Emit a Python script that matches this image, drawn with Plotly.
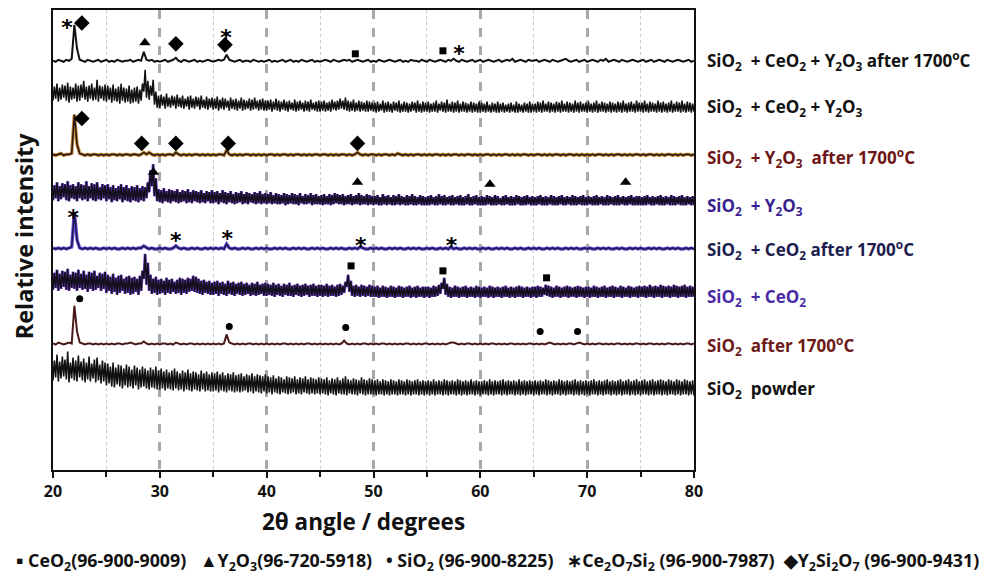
import plotly.graph_objects as go

# 2-theta grid: 20 to 80 degrees in 0.25 degree steps
TWO_THETA_START = 20.0
TWO_THETA_STEP = 0.25

labels = [
    "SiO<sub>2</sub>  + CeO<sub>2</sub> + Y<sub>2</sub>O<sub>3</sub> after 1700<sup>o</sup>C",
    "SiO<sub>2</sub>  + CeO<sub>2</sub> + Y<sub>2</sub>O<sub>3</sub>",
    "SiO<sub>2</sub>  + Y<sub>2</sub>O<sub>3</sub>  after 1700<sup>o</sup>C",
    "SiO<sub>2</sub>  + Y<sub>2</sub>O<sub>3</sub>",
    "SiO<sub>2</sub>  + CeO<sub>2</sub> after 1700<sup>o</sup>C",
    "SiO<sub>2</sub>  + CeO<sub>2</sub>",
    "SiO<sub>2</sub>  after 1700<sup>o</sup>C",
    "SiO<sub>2</sub>  powder",
]
label_colors = ["#111111", "#111111", "#6e1616", "#3a1f8f", "#1d1d4f", "#4b2aa5", "#6e1a1a", "#111111"]
label_y = [411, 364, 314, 265, 221, 173, 125, 81]

# ---- low-noise patterns (single line), intensities in a.u. ----
off_ceo2_y2o3_1700 = 409
int_ceo2_y2o3_1700 = [
    2,1,3,2,1,3,2,4,38,14, 3,2,1,3,2,1,2,3,1,2,
    3,1,2,1,3,2,1,2,2,3, 1,2,3,2,11,3, 2,3,1,2,
    1,2,3,1,2,3,5,2,1,3, 2,1,2,3,1,2,1,2,3,2,
    1,2,3,2,3,8,3,2,1,2, 3,1,2,2,1,3,2,1,2,1,
    2,3,1,2,1,2,3,1,2,3, 1,2,1,3,2,1,2,3,1,2,
    1,2,3,2,1,3,2,1,2,3, 2,3,1,2,3,2,1,2,3,1,
    2,1,3,2,1,2,3,2,1,2, 3,1,2,1,3,2,2,1,3,2,
    1,3,2,1,2,3,2,1,3,2, 4,2,1,3,2,1,2,3,1,2,
    3,1,2,3,2,1,2,3,1,2, 3,2,4,1,2,3,2,1,3,2,
    2,3,1,2,3,2,1,3,2,1, 2,3,4,2,1,2,3,1,2,3,
    1,2,3,2,1,3,2,4,1,2, 3,2,1,3,2,1,2,3,2,1,
    2,3,1,2,3,1,2,3,2,1, 3,2,1,2,3,2,1,2,3,1,
    2,
]
off_y2o3_1700 = 315
int_y2o3_1700 = [
    2,1,2,3,1,2,2,3,42,12, 3,2,1,2,1,2,2,1,2,1,
    2,1,2,2,1,2,1,2,2,1, 2,2,1,2,4,2,4,2,1,2,
    1,2,1,2,2,1,4,2,1,2, 1,2,1,2,2,1,2,1,2,1,
    2,1,2,2,1,6,2,1,2,1, 2,1,2,2,1,2,1,2,1,2,
    1,2,2,1,2,1,2,2,1,2, 1,2,2,1,2,1,2,1,2,2,
    1,2,2,1,2,1,2,1,2,2, 1,2,1,2,4,2,1,2,1,2,
    2,1,2,1,2,2,1,2,1,3, 2,1,2,1,2,1,2,2,1,2,
    1,2,1,2,2,1,2,1,2,1, 2,2,1,2,1,2,2,1,2,1,
    2,1,2,2,1,2,1,2,1,2, 2,1,2,1,2,1,2,2,1,2,
    1,2,2,1,2,1,2,1,2,2, 1,2,1,2,2,1,2,1,2,1,
    2,1,2,1,2,2,1,2,1,2, 1,2,2,1,2,1,2,1,2,2,
    1,2,1,2,2,1,2,1,2,1, 2,2,1,2,1,2,1,2,2,1,
    2,
]
off_ceo2_1700 = 221
int_ceo2_1700 = [
    2,1,2,1,2,1,2,3,38,10, 2,1,2,1,2,1,2,1,1,2,
    1,2,1,2,1,1,2,1,2,1, 2,1,2,2,4,2,1,2,1,1,
    2,1,2,1,1,2,4,2,1,2, 1,1,2,1,2,1,1,2,1,2,
    1,2,1,2,1,6,2,1,2,1, 1,2,1,2,1,1,2,1,2,1,
    2,1,1,2,1,2,1,2,1,1, 2,1,2,1,2,1,1,2,1,2,
    1,2,1,1,2,1,2,1,2,1, 1,2,1,2,1,3,2,1,1,2,
    1,2,1,2,1,1,2,1,2,1, 2,1,1,2,1,2,1,2,1,1,
    2,1,2,1,1,2,1,2,1,3, 1,2,1,1,2,1,2,1,2,1,
    1,2,1,2,1,1,2,1,2,1, 2,1,1,2,1,2,1,1,2,1,
    2,1,2,1,1,2,1,2,1,2, 1,1,2,1,2,1,2,1,1,2,
    1,2,1,1,2,1,2,1,2,1, 1,2,1,2,1,1,2,1,2,1,
    2,1,1,2,1,2,1,2,1,1, 2,1,2,1,2,1,1,2,1,2,
    1,
]
off_sio2_1700 = 125
int_sio2_1700 = [
    2,1,3,2,1,2,3,2,40,14, 3,2,1,2,2,1,2,1,2,1,
    2,1,2,1,2,2,1,2,2,3, 2,1,2,2,4,2,1,2,1,2,
    1,2,2,1,2,1,3,2,1,2, 1,2,2,1,2,1,2,1,2,1,
    2,1,2,1,2,11,3,2,1,2, 1,2,1,2,2,1,2,1,2,1,
    2,1,2,1,2,1,2,2,1,2, 1,2,1,2,1,2,2,1,2,1,
    2,1,2,1,2,1,2,1,2,5, 2,1,2,1,2,1,2,2,1,2,
    1,2,1,2,2,1,2,1,2,1, 2,1,2,2,1,2,1,2,1,2,
    2,1,2,1,2,1,2,1,2,3, 3,2,1,2,1,2,2,1,2,1,
    2,1,2,1,2,2,1,2,1,2, 1,2,2,1,2,1,2,1,2,2,
    1,2,1,2,1,2,3,2,1,2, 1,2,1,2,2,1,2,3,2,1,
    2,1,2,1,2,2,1,2,1,2, 1,2,2,1,2,1,2,1,2,2,
    1,2,1,2,2,1,2,1,2,1, 2,2,1,2,1,2,1,2,2,1,
    2,
]

# ---- noisy patterns: lower / upper extremes of the noise in each 0.25 deg step, a.u. ----
off_ceo2_y2o3 = 358
lo_ceo2_y2o3 = [
    13,15,12,14,16,13,11,14,15,12, 13,16,14,12,15,13,14,12,15,13,
    12,14,11,13,12,10,13,11,12,10, 11,12,10,13,22,16,14,18,9,6,
    6,8,5,7,6,8,5,7,6,5, 7,4,6,5,7,4,6,5,4,6,
    4,5,3,5,4,6,3,5,4,3, 5,3,4,5,3,4,5,3,4,3,
    3,4,2,4,3,2,4,3,2,4, 3,2,3,4,2,3,2,4,3,2,
    2,3,2,3,2,4,3,4,5,4, 3,2,3,2,3,2,3,2,2,3,
    2,1,2,3,1,2,2,1,3,2, 1,2,2,1,2,3,1,2,1,2,
    2,1,2,2,1,3,2,1,2,2, 1,2,1,2,2,1,2,1,2,1,
    1,2,1,2,1,2,1,1,2,1, 2,1,2,1,1,2,1,2,1,1,
    2,1,2,1,2,2,1,2,1,2, 1,2,2,1,2,1,2,1,2,2,
    1,2,1,2,1,2,2,1,2,1, 2,1,2,1,2,1,2,2,1,2,
    2,1,2,1,2,2,1,2,1,2, 1,2,1,2,2,1,2,1,2,1,
    2,
]
hi_ceo2_y2o3 = [
    27,30,26,29,28,31,27,26,30,28, 29,33,27,28,30,26,34,28,27,29,
    28,26,29,25,27,30,26,25,28,24, 26,27,24,30,44,33,28,34,22,18,
    19,17,20,16,18,17,19,16,18,15, 17,18,15,17,16,18,14,17,15,16,
    15,17,14,16,15,13,16,14,15,13, 16,14,13,15,14,16,13,14,15,13,
    13,14,12,15,13,12,14,12,13,11, 14,12,13,11,13,12,14,11,12,13,
    12,13,11,12,14,12,13,15,13,16, 13,12,14,11,13,12,11,13,12,11,
    11,12,10,13,11,12,10,12,11,13, 10,12,11,10,12,11,13,10,12,11,
    12,10,11,13,10,12,11,14,10,12, 11,13,10,12,11,10,12,11,10,12,
    11,10,12,9,11,10,12,10,11,9, 10,11,9,12,10,9,11,10,12,10,
    10,12,11,13,10,12,11,10,12,11, 13,10,12,11,10,13,11,12,10,11,
    12,10,11,13,10,12,11,10,12,11, 10,12,11,13,10,11,12,10,13,11,
    11,13,10,12,11,10,13,11,12,10, 11,13,10,12,11,13,10,12,11,10,
    11,
]
off_y2o3 = 265
lo_y2o3 = [
    6,8,5,7,9,6,5,8,7,5, 8,6,7,5,8,6,5,7,6,8,
    5,7,4,6,5,7,4,6,5,4, 6,5,4,6,5,8,14,20,10,5,
    4,3,5,4,3,5,4,3,4,5, 3,4,3,5,4,3,4,3,5,3,
    3,4,2,4,3,2,4,3,2,3, 4,2,3,2,4,3,2,3,2,3,
    2,3,2,3,2,2,3,1,2,3, 2,2,1,3,2,2,3,1,2,2,
    2,1,2,2,1,2,3,2,2,1, 2,2,1,2,2,1,2,2,1,2,
    1,2,1,1,2,1,2,1,1,2, 1,2,1,1,2,1,1,2,1,1,
    1,1,2,1,1,2,1,1,2,1, 1,2,1,1,1,2,1,1,2,1,
    1,1,1,2,1,1,1,2,1,1, 2,1,1,1,2,1,1,1,2,1,
    1,1,2,1,1,1,2,1,1,1, 2,1,1,2,1,1,1,2,1,1,
    1,2,1,1,1,2,1,1,1,2, 1,1,1,2,1,1,2,1,1,1,
    1,1,1,2,1,1,2,1,1,1, 2,1,1,1,2,1,1,1,2,1,
    1,
]
hi_y2o3 = [
    21,24,20,23,22,25,21,22,20,24, 22,21,25,20,23,22,24,19,22,21,
    22,19,21,18,20,22,19,21,18,20, 19,21,18,20,19,24,36,42,28,17,
    16,18,15,17,16,15,17,14,16,15, 17,14,16,15,14,16,13,15,14,16,
    14,15,13,16,14,13,15,12,14,13, 15,12,14,13,12,14,13,15,12,13,
    12,14,11,13,12,11,13,12,11,13, 12,11,13,10,12,11,13,11,12,10,
    11,12,10,12,11,13,12,11,12,10, 11,12,10,11,13,11,10,12,11,10,
    10,11,9,12,10,11,9,11,10,12, 10,9,11,10,12,10,9,11,10,9,
    10,11,9,10,12,10,11,9,10,11, 9,10,11,9,10,12,9,10,11,9,
    10,9,11,10,9,11,10,8,10,11, 9,10,9,11,10,9,10,11,9,10,
    9,10,11,9,10,9,11,10,9,10, 11,9,10,9,11,10,9,10,11,9,
    10,9,10,11,9,10,9,11,10,9, 10,11,9,10,9,10,11,9,10,10,
    9,10,11,9,10,9,10,11,9,10, 9,11,10,9,10,11,9,10,9,10,
    10,
]
off_ceo2 = 172
lo_ceo2 = [
    9,11,8,10,12,9,8,11,10,8, 11,9,10,7,10,8,9,11,8,10,
    6,8,5,7,4,6,8,5,6,4, 5,7,4,8,20,14,8,5,6,4,
    5,6,4,6,5,7,5,6,4,6, 5,7,8,7,6,5,4,6,5,4,
    4,5,3,5,4,3,5,4,3,5, 4,3,4,5,3,4,3,4,5,3,
    3,4,3,2,4,3,2,4,3,3, 2,4,3,2,3,4,2,3,3,2,
    3,2,3,2,3,3,2,3,4,6, 12,7,3,2,3,2,3,2,3,2,
    2,2,1,2,2,1,2,2,1,2, 2,1,2,2,1,2,1,2,2,1,
    2,1,2,2,3,5,10,4,2,1, 2,2,1,2,2,1,2,2,1,2,
    1,2,2,1,2,1,2,2,1,2, 2,1,2,1,2,2,1,2,2,1,
    2,1,2,2,4,3,2,1,2,2, 1,2,2,1,2,2,1,2,2,1,
    2,1,2,2,1,2,2,1,2,2, 1,2,2,1,2,2,1,2,2,1,
    2,2,1,2,2,1,2,2,1,2, 2,1,2,2,1,2,2,1,2,2,
    2,
]
hi_ceo2 = [
    26,29,25,28,27,30,24,27,26,29, 25,28,24,27,26,28,23,26,25,27,
    24,22,25,21,23,24,20,22,23,21, 22,20,23,28,45,36,24,20,22,19,
    20,18,21,19,20,17,19,21,20,19, 21,20,23,22,20,18,19,17,18,16,
    17,18,16,17,15,18,16,17,15,16, 17,15,16,14,16,15,17,14,15,16,
    15,14,16,14,15,13,15,14,16,13, 14,15,13,14,15,13,14,15,13,14,
    14,13,15,13,14,12,14,15,13,17, 24,18,13,14,12,14,13,12,14,13,
    12,13,11,13,12,11,13,12,11,13, 12,11,12,13,11,12,13,11,12,12,
    12,11,13,12,14,16,21,15,12,11, 13,12,11,12,13,11,12,11,13,12,
    11,12,11,13,12,11,12,11,12,13, 11,12,11,12,13,12,11,12,11,12,
    12,13,12,11,14,13,12,11,13,12, 11,12,13,12,11,12,13,12,11,12,
    12,11,13,12,11,12,13,11,12,13, 12,11,13,12,11,13,12,11,12,13,
    12,13,12,14,12,13,12,14,13,12, 13,12,14,13,12,13,14,12,13,12,
    12,
]
off_sio2_powder = 74
lo_sio2_powder = [
    16,19,15,18,20,17,14,18,16,15, 19,16,14,17,15,18,14,16,13,15,
    11,13,10,9,12,10,8,11,9,10, 8,11,7,9,10,8,7,9,8,7,
    7,8,6,8,7,6,8,6,7,5, 7,6,5,7,6,5,7,5,6,5,
    5,6,4,6,5,4,6,5,4,5, 4,5,6,4,5,3,5,4,3,5,
    3,4,2,4,3,2,4,3,2,3, 4,2,3,2,4,3,2,3,2,3,
    2,3,2,1,3,2,1,3,2,2, 1,3,2,2,1,3,2,1,2,2,
    2,1,2,2,1,2,1,2,2,1, 2,2,1,2,1,2,2,1,2,1,
    2,1,2,1,2,2,1,2,1,2, 2,1,2,1,2,1,2,2,1,2,
    1,2,2,1,2,1,2,2,1,2, 1,2,2,1,2,1,2,1,2,2,
    1,2,1,2,2,1,2,1,2,2, 1,2,1,2,2,1,2,1,2,1,
    2,1,2,2,1,2,1,2,2,1, 2,1,2,1,2,2,1,2,1,2,
    1,2,2,1,2,1,2,2,1,2, 1,2,2,1,2,1,2,2,1,2,
    1,
]
hi_sio2_powder = [
    36,42,35,40,37,45,34,39,36,41, 35,38,34,40,33,37,39,32,36,34,
    33,30,34,29,32,31,28,32,30,27, 31,29,27,30,28,26,29,27,30,26,
    28,25,27,24,26,28,25,23,26,24, 27,23,25,24,22,26,23,25,22,24,
    23,25,22,24,21,23,22,24,21,22, 23,20,22,21,23,20,22,21,20,22,
    20,19,21,18,20,19,17,20,19,18, 20,17,19,18,20,17,19,18,17,19,
    18,17,19,16,18,17,19,16,18,20, 17,16,18,17,16,19,17,16,18,17,
    16,17,15,17,16,15,17,16,15,17, 16,15,17,16,15,16,17,15,16,15,
    16,15,17,15,16,15,17,16,15,16, 15,17,16,15,16,15,17,15,16,15,
    15,16,15,17,15,16,15,16,17,15, 16,15,16,15,17,15,16,15,16,15,
    16,15,16,15,17,16,15,16,15,17, 16,15,16,15,16,17,15,16,15,16,
    15,16,17,15,16,15,16,17,15,16, 15,16,17,15,16,17,15,16,17,15,
    16,17,15,16,17,15,16,17,16,15, 17,16,15,17,16,15,17,16,15,16,
    16,
]

# ---- phase identification marks (2theta, height in plot units) ----
ceo2_x = [48.3, 56.5, 47.9, 56.5, 66.2]
ceo2_y = [418, 421, 205, 200, 193]
y2o3_x = [28.6, 29.4, 48.5, 60.9, 73.6]
y2o3_y = [429, 299, 289, 287, 289]
sio2_x = [22.5, 36.5, 47.4, 65.6, 69.1]
sio2_y = [172, 144, 143, 139, 139]
ce2o7si2_x = [21.3, 36.2, 58.0, 21.9, 31.5, 36.3, 48.8, 57.3]
ce2o7si2_y = [448, 438, 422, 258, 234, 237, 229, 229]
y2si2o7_x = [22.7, 31.5, 36.1, 22.7, 28.3, 31.5, 36.4, 48.5]
y2si2o7_y = [449, 428, 427, 353, 328, 328, 328, 328]

x_ticks = [20, 30, 40, 50, 60, 70, 80]
x_title = "2θ angle / degrees"
y_title = "Relative intensity"
phase_legend = ("▪ CeO<sub>2</sub>(96-900-9009)   ▲Y<sub>2</sub>O<sub>3</sub>(96-720-5918)   "
                "• SiO<sub>2</sub> (96-900-8225)   ∗Ce<sub>2</sub>O<sub>7</sub>Si<sub>2</sub> (96-900-7987)"
                "  ◆Y<sub>2</sub>Si<sub>2</sub>O<sub>7</sub> (96-900-9431)")

FONT = "'Open Sans', Lato, sans-serif"


def grid(n):
    return [TWO_THETA_START + TWO_THETA_STEP * i for i in range(n)]


fig = go.Figure()


def add_line(vals, off, core, halo=None, width=2.0):
    xs = grid(len(vals))
    ys = [off + v for v in vals]
    if halo:
        fig.add_trace(go.Scatter(x=xs, y=ys, mode="lines", line=dict(color=halo, width=width + 1.8),
                                 hoverinfo="skip", showlegend=False))
    fig.add_trace(go.Scatter(x=xs, y=ys, mode="lines", line=dict(color=core, width=width),
                             showlegend=False))


def add_noisy(lo, hi, off, core, halo=None):
    # trace the noise: in each 0.25 deg step the signal swings from its low to its high extreme
    n = min(len(lo), len(hi))
    xs, ys = [], []
    for x, a, b in zip(grid(n), lo[:n], hi[:n]):
        xs += [x, x + TWO_THETA_STEP / 2]
        ys += [off + a, off + b]
    if halo:
        fig.add_trace(go.Scatter(x=xs, y=ys, mode="lines", line=dict(color=halo, width=2.9),
                                 hoverinfo="skip", showlegend=False))
    fig.add_trace(go.Scatter(x=xs, y=ys, mode="lines", line=dict(color=core, width=1.55),
                             showlegend=False))


add_line(int_ceo2_y2o3_1700, off_ceo2_y2o3_1700, "#111111")
add_noisy(lo_ceo2_y2o3, hi_ceo2_y2o3, off_ceo2_y2o3, "#111111")
add_line(int_y2o3_1700, off_y2o3_1700, "#2a1a10", halo="#c98a3a", width=1.6)
add_noisy(lo_y2o3, hi_y2o3, off_y2o3, "#141020", halo="#7b4ad8")
add_line(int_ceo2_1700, off_ceo2_1700, "#1d1d55", halo="#6a4ad8", width=1.6)
add_noisy(lo_ceo2, hi_ceo2, off_ceo2, "#141020", halo="#7b4ad8")
add_line(int_sio2_1700, off_sio2_1700, "#4a1a1a", width=2.0)
add_noisy(lo_sio2_powder, hi_sio2_powder, off_sio2_powder, "#111111")

mk = dict(color="#000000")
fig.add_trace(go.Scatter(x=ceo2_x, y=ceo2_y, mode="markers",
                         marker=dict(symbol="square", size=7, **mk), showlegend=False))
fig.add_trace(go.Scatter(x=y2o3_x, y=y2o3_y, mode="markers",
                         marker=dict(symbol="triangle-up", size=10, **mk), showlegend=False))
fig.add_trace(go.Scatter(x=sio2_x, y=sio2_y, mode="markers",
                         marker=dict(symbol="circle", size=7, **mk), showlegend=False))
fig.add_trace(go.Scatter(x=y2si2o7_x, y=y2si2o7_y, mode="markers",
                         marker=dict(symbol="diamond", size=12, **mk), showlegend=False))
fig.add_trace(go.Scatter(x=ce2o7si2_x, y=[v - 6 for v in ce2o7si2_y], mode="text",
                         text=["<b>*</b>"] * len(ce2o7si2_x), textposition="middle center",
                         textfont=dict(size=22, color="#000000", family="DejaVu Sans"),
                         showlegend=False))

# page geometry: plot area spans x 53..694 and y 8..470 of the 987x579 window
annotations = []
for lab, col, ly in zip(labels, label_colors, label_y):
    annotations.append(dict(x=1.017, xref="paper", y=ly, yref="y", xanchor="left", yanchor="middle",
                            text="<b>" + lab + "</b>", showarrow=False,
                            font=dict(family=FONT, size=17, color=col)))
annotations.append(dict(x=0.485, xref="paper", y=-0.1126, yref="paper", xanchor="center", yanchor="middle",
                        text="<b>" + x_title + "</b>", showarrow=False,
                        font=dict(family=FONT, size=22.5, color="#111111")))
annotations.append(dict(x=-0.046, xref="paper", y=0.509, yref="paper", xanchor="center", yanchor="middle",
                        text="<b>" + y_title + "</b>", showarrow=False, textangle=-90,
                        font=dict(family=FONT, size=23.5, color="#111111")))
annotations.append(dict(x=(497 - 53) / 641, xref="paper", y=(470 - 562) / 462, yref="paper",
                        xanchor="center", yanchor="middle",
                        text="<b>" + phase_legend + "</b>", showarrow=False,
                        font=dict(family=FONT, size=17.8, color="#111111")))

fig.update_layout(
    width=979, height=571,
    margin=dict(l=45, r=293, t=0, b=109),
    plot_bgcolor="white", paper_bgcolor="white",
    annotations=annotations,
    showlegend=False,
)
fig.update_xaxes(
    range=[20, 80], tickvals=x_ticks, ticktext=["<b>%d</b>" % t for t in x_ticks],
    tickfont=dict(family=FONT, size=16, color="#111111"),
    showline=True, linecolor="#111111", linewidth=1.5, mirror=True,
    ticks="outside", ticklen=6, tickcolor="#111111", tickwidth=1.5,
    showgrid=True, gridcolor="#a8a8a8", griddash="dash", gridwidth=2.5,
    minor=dict(tickvals=[25, 35, 45, 55, 65, 75], ticks="outside", ticklen=5, tickcolor="#111111",
               showgrid=True, gridcolor="#c8c8c8", griddash="dot", gridwidth=1),
    zeroline=False,
)
fig.update_yaxes(
    range=[0, 462], showticklabels=False, showgrid=False, zeroline=False,
    showline=True, linecolor="#111111", linewidth=1.5, mirror=True, ticks="",
)

fig.write_html("out.html")
